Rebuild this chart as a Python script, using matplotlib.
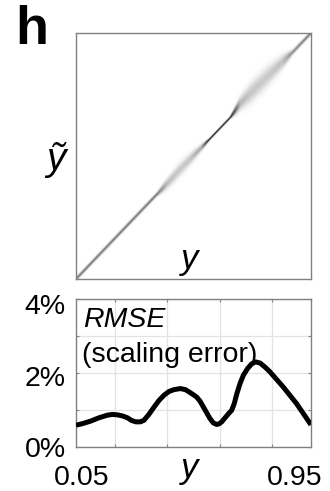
import numpy as np
import matplotlib
matplotlib.use('Agg')
import matplotlib.pyplot as plt

plt.rcParams['font.family'] = ['Liberation Sans', 'DejaVu Sans']

# reconstruction spread along the diagonal (knots in y)
band_y = [0.05, 0.20, 0.36, 0.40, 0.44, 0.48, 0.53, 0.56, 0.64, 0.68, 0.72, 0.78, 0.84, 0.88, 0.95]
band_sigma = [0.005, 0.005, 0.005, 0.013, 0.016, 0.015, 0.008, 0.003, 0.003, 0.016, 0.024, 0.024, 0.017, 0.006, 0.005]
band_peak = [0.55, 0.55, 0.55, 0.26, 0.22, 0.22, 0.35, 1.0, 1.0, 0.28, 0.22, 0.21, 0.24, 0.45, 0.55]
band_shift = [0.0, 0.0, 0.0, 0.0, 0.002, 0.002, 0.0, 0.0, 0.0, 0.014, 0.012, 0.008, 0.003, 0.0, 0.0]

# RMSE of the scaling error vs y (percent)
rmse_y = [0.05, 0.074, 0.106, 0.138, 0.17, 0.189, 0.208, 0.228, 0.247, 0.262, 0.279,
          0.296, 0.31, 0.329, 0.349, 0.368, 0.387, 0.406, 0.425, 0.45, 0.469, 0.483,
          0.50, 0.512, 0.525, 0.538, 0.551, 0.563, 0.576, 0.589, 0.599, 0.608, 0.621,
          0.634, 0.646, 0.656, 0.666, 0.678, 0.691, 0.707, 0.723, 0.738, 0.755, 0.774,
          0.793, 0.844, 0.895, 0.95]
rmse_val = [0.59, 0.63, 0.70, 0.79, 0.86, 0.88, 0.87, 0.84, 0.79, 0.72, 0.68,
            0.68, 0.72, 0.88, 1.08, 1.26, 1.40, 1.50, 1.55, 1.58, 1.55, 1.49,
            1.41, 1.35, 1.24, 1.08, 0.92, 0.77, 0.65, 0.61, 0.63, 0.68, 0.79,
            0.90, 0.99, 1.17, 1.44, 1.71, 1.94, 2.12, 2.25, 2.30, 2.27, 2.16,
            2.03, 1.62, 1.17, 0.60]
rmse_ticks = [0, 2, 4]

fig = plt.figure(figsize=(3.3, 4.91), dpi=100)

spine_col = '#808080'
grid_col = '#e3e3e3'
fs = 20.5

# --- top panel: density of y~ against y ---
ax1 = fig.add_axes([0.2303, 0.4318, 0.7121, 0.501])
n = 500
g = np.linspace(0.05, 0.95, n)
X, Y = np.meshgrid(g, g)
sig = np.interp(g, band_y, band_sigma)
peak = np.interp(g, band_y, band_peak)
centre = g + np.interp(g, band_y, band_shift)
dens = peak[None, :] * np.exp(-0.5 * ((Y - centre[None, :]) / sig[None, :]) ** 2)
ax1.imshow(dens, origin='lower', extent=[0.05, 0.95, 0.05, 0.95], cmap='gray_r',
           vmin=0, vmax=1, interpolation='bilinear', aspect='auto', zorder=2)
ax1.set_xlim(0.05, 0.95)
ax1.set_ylim(0.05, 0.95)
ax1.set_xticks([0.2, 0.4, 0.6, 0.8])
ax1.set_yticks([0.2, 0.4, 0.6, 0.8])
ax1.set_xticklabels([])
ax1.set_yticklabels([])
ax1.grid(True, color=grid_col, lw=0.9, zorder=1)
ax1.set_axisbelow(True)
ax1.tick_params(direction='in', length=2, color=spine_col, top=True, right=True)
for s in ax1.spines.values():
    s.set_color(spine_col)
    s.set_linewidth(1.0)
ax1.text(0.485, 0.041, 'y', transform=ax1.transAxes, ha='center', va='baseline',
         fontsize=25, style='italic')
fig.text(0.17, 0.675, 'ỹ', ha='center', va='center', fontsize=28, style='italic')
fig.text(0.045, 0.99, 'h', ha='left', va='top', fontsize=39, fontweight='bold')

# --- bottom panel: RMSE curve ---
ax2 = fig.add_axes([0.2303, 0.0896, 0.7121, 0.3014])
ax2.plot(rmse_y, rmse_val, color='black', lw=3.6, solid_capstyle='butt',
         solid_joinstyle='round', zorder=3)
ax2.set_xlim(0.05, 0.95)
ax2.set_ylim(0, 4)
ax2.set_xticks([0.2, 0.4, 0.6, 0.8])
ax2.set_yticks([0, 1, 2, 3, 4])
ax2.set_xticklabels([])
ax2.set_yticklabels([])
ax2.grid(True, color=grid_col, lw=0.9, zorder=1)
ax2.set_axisbelow(True)
ax2.tick_params(direction='in', length=2, color=spine_col, top=True, right=True)
for s in ax2.spines.values():
    s.set_color(spine_col)
    s.set_linewidth(1.0)

# percent labels sit a little below their gridlines
for v, dy in zip(rmse_ticks, [-2.5, -4.0, -6.0]):
    ax2.annotate(f'{v}%', xy=(0, v), xycoords=('axes fraction', 'data'),
                 xytext=(-7.5, dy), textcoords='offset points', ha='right',
                 va='center', fontsize=fs)
ax2.annotate('0.05', xy=(0.05, 0), xycoords=('data', 'axes fraction'),
             xytext=(4.3, -27.4), textcoords='offset points', ha='center',
             va='baseline', fontsize=fs)
ax2.annotate('0.95', xy=(0.95, 0), xycoords=('data', 'axes fraction'),
             xytext=(-11.5, -27.4), textcoords='offset points', ha='center',
             va='baseline', fontsize=fs)
ax2.text(0.485, -0.207, 'y', transform=ax2.transAxes, ha='center', va='baseline',
         fontsize=25, style='italic')
ax2.text(0.03, 0.81, 'RMSE', transform=ax2.transAxes, ha='left', va='baseline',
         fontsize=fs, style='italic')
ax2.text(0.025, 0.574, '(scaling error)', transform=ax2.transAxes, ha='left',
         va='baseline', fontsize=fs)

fig.savefig('out.png', dpi=100)
